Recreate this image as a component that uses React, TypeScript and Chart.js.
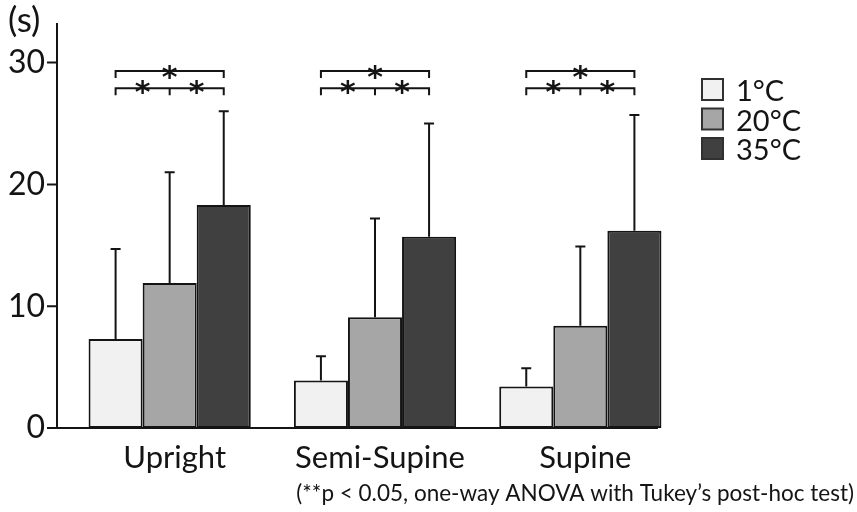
import React, { useEffect, useRef } from "react";
import { Chart, registerables } from "chart.js";

Chart.register(...registerables);

const categories = ["Upright", "Semi-Supine", "Supine"];
const seriesNames = ["1°C", "20°C", "35°C"];
const mean1 = [7.3, 3.9, 3.4];
const mean20 = [11.9, 9.1, 8.4];
const mean35 = [18.3, 15.7, 16.2];
const sd1 = [7.4, 2.0, 1.5];
const sd20 = [9.1, 8.1, 6.5];
const sd35 = [7.7, 9.3, 9.5];
const yTicks = [0, 10, 20, 30];
const bracketUpper = 29.3;
const bracketLower = 27.9;
const yUnit = "(s)";
const footnote = "(**p < 0.05, one-way ANOVA with Tukey’s post-hoc test)";

const fills = ["#f1f1f1", "#a6a6a6", "#404040"];
const FONT = "Lato, 'Open Sans', sans-serif";
const INK = "#141414";

const extras = {
  id: "extras",
  afterDatasetsDraw(chart: any) {
    const ctx = chart.ctx;
    const ys = chart.scales.y;
    const area = chart.chartArea;
    const sds = [sd1, sd20, sd35];
    const means = [mean1, mean20, mean35];
    ctx.save();
    ctx.strokeStyle = INK;
    ctx.lineWidth = 2;
    // error bars
    for (let d = 0; d < 3; d++) {
      const meta = chart.getDatasetMeta(d);
      meta.data.forEach((el: any, i: number) => {
        const x = el.x;
        const yTop = ys.getPixelForValue(means[d][i]);
        const yErr = ys.getPixelForValue(means[d][i] + sds[d][i]);
        ctx.beginPath();
        ctx.moveTo(x, yTop);
        ctx.lineTo(x, yErr);
        ctx.moveTo(x - 5, yErr);
        ctx.lineTo(x + 5, yErr);
        ctx.stroke();
      });
    }
    // axes
    const axisX = area.left - 10;
    const y0 = ys.getPixelForValue(0);
    ctx.beginPath();
    ctx.moveTo(axisX, area.top);
    ctx.lineTo(axisX, y0);
    ctx.moveTo(axisX - 10, y0);
    ctx.lineTo(area.right - 25, y0);
    yTicks.forEach((t) => {
      const py = ys.getPixelForValue(t);
      ctx.moveTo(axisX - 10, py);
      ctx.lineTo(axisX, py);
    });
    ctx.stroke();
    // significance brackets
    const m0 = chart.getDatasetMeta(0);
    const m1 = chart.getDatasetMeta(1);
    const m2 = chart.getDatasetMeta(2);
    const yu = ys.getPixelForValue(bracketUpper);
    const yl = ys.getPixelForValue(bracketLower);
    ctx.font = `bold 30px 'DejaVu Sans', sans-serif`;
    ctx.fillStyle = INK;
    ctx.textAlign = "center";
    ctx.textBaseline = "alphabetic";
    categories.forEach((_, i) => {
      const a = m0.data[i].x;
      const b = m1.data[i].x;
      const c = m2.data[i].x;
      ctx.beginPath();
      ctx.moveTo(a, yu + 7);
      ctx.lineTo(a, yu);
      ctx.lineTo(c, yu);
      ctx.lineTo(c, yu + 7);
      ctx.moveTo(a, yl + 7);
      ctx.lineTo(a, yl);
      ctx.lineTo(c, yl);
      ctx.lineTo(c, yl + 7);
      ctx.moveTo(b, yl);
      ctx.lineTo(b, yl + 7);
      ctx.stroke();
      ctx.fillText("*", (a + c) / 2, yu + 16);
      ctx.fillText("*", (a + b) / 2, yl + 14);
      ctx.fillText("*", (b + c) / 2, yl + 14);
    });
    // legend
    const lx = area.right + 19;
    let ly = 79;
    ctx.textAlign = "left";
    ctx.font = `29px ${FONT}`;
    seriesNames.forEach((name, i) => {
      ctx.fillStyle = fills[i];
      ctx.fillRect(lx, ly, 21, 21);
      ctx.strokeStyle = "#303030";
      ctx.strokeRect(lx, ly, 21, 21);
      ctx.fillStyle = INK;
      ctx.fillText(name, lx + 34, ly + 22);
      ly += 29.5;
    });
    // unit & footnote
    ctx.font = `35px ${FONT}`;
    ctx.fillText(yUnit, 8, 32);
    ctx.font = `22.5px ${FONT}`;
    ctx.textAlign = "right";
    ctx.fillText(footnote, 854, 501);
    ctx.restore();
  },
};

export default function App() {
  const ref = useRef<HTMLCanvasElement | null>(null);
  useEffect(() => {
    if (!ref.current) return;
    const chart = new Chart(ref.current, {
      type: "bar",
      data: {
        labels: categories,
        datasets: [mean1, mean20, mean35].map((d, i) => ({
          label: seriesNames[i],
          data: d,
          backgroundColor: fills[i],
          borderColor: INK,
          borderWidth: 2,
          borderSkipped: false,
          categoryPercentage: 0.79,
          barPercentage: 1.0,
        })),
      },
      options: {
        responsive: false,
        animation: false,
        layout: { padding: { left: 0, right: 174, top: 23, bottom: 0 } },
        plugins: { legend: { display: false }, tooltip: { enabled: false } },
        scales: {
          x: {
            grid: { display: false },
            border: { display: false },
            ticks: { color: INK, font: { family: FONT, size: 31 }, padding: 3, labelOffset: 5 },
            afterFit: (s: any) => {
              s.height = 84;
              s.paddingLeft = 0;
              s.paddingRight = 0;
            },
          },
          y: {
            min: 0,
            max: 33.25,
            grid: { display: false },
            border: { display: false },
            ticks: {
              stepSize: 10,
              includeBounds: false,
              color: INK,
              font: { family: FONT, size: 32 },
              padding: 14,
            },
            afterFit: (s: any) => {
              s.width = 67;
              s.paddingTop = 0;
              s.paddingBottom = 0;
            },
          },
        },
      },
      plugins: [extras],
    });
    return () => chart.destroy();
  }, []);
  return (
    <div style={{ position: "absolute", left: 0, top: 0, width: 857, height: 512, background: "#fff" }}>
      <canvas ref={ref} width={857} height={512} />
    </div>
  );
}
